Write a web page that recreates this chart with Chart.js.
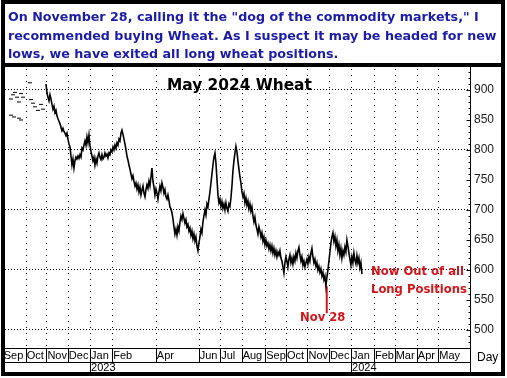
<!DOCTYPE html>
<html><head><meta charset="utf-8">
<script src="https://cdn.jsdelivr.net/npm/chart.js@4.4.1/dist/chart.umd.min.js"></script>
<style>
html,body{margin:0;padding:0;background:#fff;}
#wrap{position:relative;width:507px;height:378px;overflow:hidden;background:#fff;}
#c{position:absolute;left:0;top:0;}
#frame{position:absolute;left:1px;top:0;width:504px;height:376px;box-sizing:border-box;border:4px solid #000;pointer-events:none;z-index:5;}
#sep{position:absolute;left:1px;top:63px;width:504px;height:4px;background:#000;z-index:5;}
.note{position:absolute;white-space:nowrap;font-family:"DejaVu Sans",Verdana,sans-serif;font-weight:bold;color:#1c1ca8;z-index:4;}
.ann{position:absolute;white-space:nowrap;font-family:"DejaVu Sans",Verdana,sans-serif;font-weight:bold;z-index:4;}
.red{color:#d2161c;}
#title{color:#000;}
#day{position:absolute;white-space:nowrap;font-family:"Liberation Sans",Arial,sans-serif;color:#000;z-index:4;}
</style>
</head><body>
<div id="wrap">
  <canvas id="c" width="507" height="378"></canvas>
  <div class="note" id="n1">On November 28, calling it the "dog of the commodity markets," I</div>
  <div class="note" id="n2">recommended buying Wheat. As I suspect it may be headed for new</div>
  <div class="note" id="n3">lows, we have exited all long wheat positions.</div>
  <div class="ann" id="title">May 2024 Wheat</div>
  <div class="ann red" id="a1">Now Out of all</div>
  <div class="ann red" id="a2">Long Positions</div>
  <div class="ann red" id="a3">Nov 28</div>
  <div id="day">Day</div>
  <div id="sep"></div>
  <div id="frame"></div>
</div>
<script>
// ---- DATA (days counted from 1 Sep 2022) ----
const monthTickDays = [0, 32, 61, 91, 122, 153, 214, 274, 304, 334, 367, 396, 426, 456, 487, 519, 548, 579, 609];
const monthLabels   = ["Sep","Oct","Nov","Dec","Jan","Feb","Apr","Jun","Jul","Aug","Sep","Oct","Nov","Dec","Jan","Feb","Mar","Apr","May"];
const yearTickDays  = [122, 487];
const yearLabels    = ["2023", "2024"];
const priceTicks    = [500, 550, 600, 650, 700, 750, 800, 850, 900];

// thin early trading (Sep-Oct 2022): [day, price]
const earlyTrades = [
  [11.5, 885], [14.3, 892], [17.1, 896], [19.9, 888], [22.7, 880], [25.5, 894], [28.3, 888],
  [38.0, 912], [39.4, 884], [42.2, 878], [45.0, 872], [49.2, 866], [53.4, 876], [56.2, 868],
  [11.5, 858], [15.7, 855], [22.7, 853], [25.5, 850]
];

// daily closes from 31 Oct 2022 to mid Jan 2024
const priceStartDay = 60.4;
const priceStepDays = 1.398;
const closes = [
  910, 895, 888, 882, 892, 885, 876, 868, 873, 862,
  866, 857, 852, 848, 844, 838, 832, 836, 831, 828,
  824, 828, 818, 810, 805, 790, 775, 785, 770, 782,
  788, 785, 790, 786, 792, 788, 803, 800, 808, 815,
  808, 822, 812, 825, 808, 798, 790, 782, 788, 775,
  785, 778, 790, 795, 788, 784, 792, 785, 788, 795,
  790, 793, 787, 795, 792, 800, 797, 805, 800, 808,
  803, 812, 808, 818, 815, 828, 833, 826, 818, 810,
  800, 790, 783, 775, 768, 760, 752, 757, 748, 740,
  745, 735, 742, 730, 738, 725, 733, 740, 728, 722,
  734, 742, 736, 748, 740, 755, 770, 748, 738, 725,
  735, 728, 718, 730, 740, 732, 745, 738, 728, 734,
  722, 718, 725, 716, 705, 702, 695, 685, 672, 660,
  668, 658, 672, 665, 680, 690, 684, 694, 686, 678,
  684, 672, 676, 665, 670, 658, 665, 652, 660, 648,
  655, 640, 632, 645, 655, 668, 662, 680, 690, 700,
  692, 710, 705, 718, 730, 745, 760, 775, 788, 795,
  778, 752, 725, 712, 718, 706, 714, 703, 710, 700,
  712, 703, 698, 710, 706, 720, 740, 765, 782, 795,
  806, 797, 782, 768, 755, 745, 730, 722, 728, 712,
  720, 708, 715, 702, 710, 698, 705, 690, 680, 688,
  675, 668, 660, 672, 665, 655, 662, 648, 655, 642,
  650, 640, 645, 635, 642, 632, 640, 628, 636, 625,
  632, 622, 630, 625, 632, 620, 615, 605, 595, 612,
  622, 615, 605, 618, 625, 612, 620, 610, 622, 615,
  628, 620, 632, 638, 625, 615, 622, 608, 615, 605,
  612, 618, 610, 622, 615, 628, 636, 622, 612, 618,
  606, 612, 600, 606, 596, 602, 590, 596, 584, 590,
  573, 588, 600, 615, 630, 645, 655, 662, 648, 656,
  640, 650, 632, 642, 625, 636, 620, 632, 625, 638,
  630, 650, 640, 628, 618, 608, 622, 612, 628, 616,
  610, 624, 612, 620, 604, 612, 593
];

// "Nov 28" marker
const markerDay = 453;
const markerPrices = [573, 528];

const xMin = 3.1, xMax = 653.3, yMin = 470, yMax = 938.3;

// ---- text placement ----
const mctx = document.createElement('canvas').getContext('2d');
function fitSize(text, weight, family, targetW) {
  mctx.font = weight + ' 100px ' + family;
  return 100 * targetW / mctx.measureText(text).width;
}
function place(id, left, baseline, size) {
  const el = document.getElementById(id);
  el.style.fontSize = size + 'px';
  el.style.lineHeight = size + 'px';
  el.style.left = left + 'px';
  el.style.top = (baseline - 0.846 * size) + 'px';
}
const DJ = '"DejaVu Sans"';
const noteSize = fitSize(document.getElementById('n2').textContent, 'bold', DJ, 489);
place('n1', 8, 22, noteSize);
place('n2', 8, 41, noteSize);
place('n3', 8, 59, noteSize);
const tSize = fitSize('May 2024 Wheat', 'bold', DJ, 145);
place('title', 167, 91, tSize);
const aSize = fitSize('Now Out of all', 'bold', DJ, 93);
place('a1', 371, 276, aSize);
place('a2', 371, 294, aSize);
place('a3', 300, 322, aSize);
place('day', 477, 361, 12);

// ---- chart ----
const mainData = closes.map((v, i) => ({x: priceStartDay + i * priceStepDays, y: v}));
const earlyData = earlyTrades.map(p => ({x: p[0], y: p[1]}));
const markerData = markerPrices.map(v => ({x: markerDay, y: v}));

const seg = (ctx, a, b, c, d) => { ctx.beginPath(); ctx.moveTo(a, b); ctx.lineTo(c, d); ctx.stroke(); };

const gridPlugin = {
  id: 'gridPlugin',
  beforeDatasetsDraw(chart) {
    const {ctx, chartArea} = chart;
    const x = chart.scales.x;
    ctx.save();
    ctx.strokeStyle = '#000';
    ctx.lineWidth = 1;
    ctx.setLineDash([1, 5]);
    x.ticks.forEach(t => {
      const px = Math.round(x.getPixelForValue(t.value)) + 0.5;
      if (px > chartArea.left + 1 && px < chartArea.right - 1) seg(ctx, px, chartArea.top + 2, px, chartArea.bottom);
    });
    ctx.restore();
  }
};

const bandPlugin = {
  id: 'bandPlugin',
  afterDraw(chart) {
    const {ctx} = chart;
    const x = chart.scales.x, x2 = chart.scales.x2, y = chart.scales.y;
    ctx.save();
    ctx.strokeStyle = '#000';
    ctx.lineWidth = 1;
    x.ticks.forEach(t => {
      const px = Math.round(x.getPixelForValue(t.value)) + 0.5;
      if (px > chart.chartArea.left - 2) seg(ctx, px, x.top, px, x.bottom);
    });
    x2.ticks.forEach(t => {
      const px = Math.round(x2.getPixelForValue(t.value)) + 0.5;
      seg(ctx, px, x2.top, px, x2.bottom);
    });
    const ax = Math.round(y.left) + 0.5;
    seg(ctx, ax, chart.chartArea.top, ax, x2.bottom);
    for (let v = 480; v <= 930; v += 10) {
      const py = Math.round(y.getPixelForValue(v)) + 0.5;
      const len = (v % 50 === 0) ? 4 : 2;
      seg(ctx, ax - len, py, ax, py);
    }
    ctx.restore();
  }
};

new Chart(document.getElementById('c'), {
  type: 'line',
  data: {
    datasets: [
      {
        label: 'Close',
        data: mainData,
        borderColor: '#000',
        borderWidth: 1.6,
        pointRadius: 0,
        tension: 0,
        xAxisID: 'x', yAxisID: 'y'
      },
      {
        label: 'Early',
        data: earlyData,
        showLine: false,
        pointStyle: 'line',
        pointRadius: 2,
        pointBorderWidth: 1,
        borderColor: '#000',
        backgroundColor: '#000',
        xAxisID: 'x', yAxisID: 'y'
      },
      {
        label: 'Nov 28',
        data: markerData,
        borderColor: '#d2161c',
        borderWidth: 2,
        pointRadius: 0,
        xAxisID: 'x', yAxisID: 'y'
      }
    ]
  },
  options: {
    responsive: false,
    animation: false,
    devicePixelRatio: 1,
    layout: {autoPadding: false, padding: {left: 5, right: 6, top: 67, bottom: 6}},
    plugins: {legend: {display: false}, tooltip: {enabled: false}, title: {display: false}},
    scales: {
      x: {
        type: 'linear', position: 'bottom', min: xMin, max: xMax,
        afterBuildTicks: s => { s.ticks = monthTickDays.map(v => ({value: v})); },
        afterFit: s => { s.height = 14; },
        ticks: {
          autoSkip: false, maxRotation: 0, minRotation: 0, align: 'start',
          labelOffset: 1, padding: 1, color: '#000',
          font: {family: '"Liberation Sans", Arial, sans-serif', size: 11},
          callback: (v, i) => monthLabels[i]
        },
        grid: {display: false, drawTicks: false, drawOnChartArea: false},
        border: {display: true, color: '#000', width: 1}
      },
      x2: {
        type: 'linear', position: 'bottom', min: xMin, max: xMax,
        afterBuildTicks: s => { s.ticks = yearTickDays.map(v => ({value: v})); },
        afterFit: s => { s.height = 10; },
        ticks: {
          autoSkip: false, maxRotation: 0, minRotation: 0, align: 'start',
          labelOffset: 1, padding: 0, color: '#000',
          font: {family: '"Liberation Sans", Arial, sans-serif', size: 11, lineHeight: 1},
          callback: (v, i) => yearLabels[i]
        },
        grid: {display: false, drawTicks: false, drawOnChartArea: false},
        border: {display: true, color: '#000', width: 1}
      },
      y: {
        type: 'linear', position: 'right', min: yMin, max: yMax,
        afterBuildTicks: s => { s.ticks = priceTicks.map(v => ({value: v})); },
        afterFit: s => { s.width = 31; },
        ticks: {
          padding: 4, color: '#1a1a1a',
          font: {family: '"Liberation Sans", Arial, sans-serif', size: 12}
        },
        grid: {
          drawTicks: false,
          color: c => (c.tick && c.tick.value % 100 === 0) ? '#000' : 'rgba(0,0,0,0)'
        },
        border: {display: true, color: '#000', width: 1, dash: [1, 2]}
      }
    }
  },
  plugins: [gridPlugin, bandPlugin]
});
</script>
</body></html>
